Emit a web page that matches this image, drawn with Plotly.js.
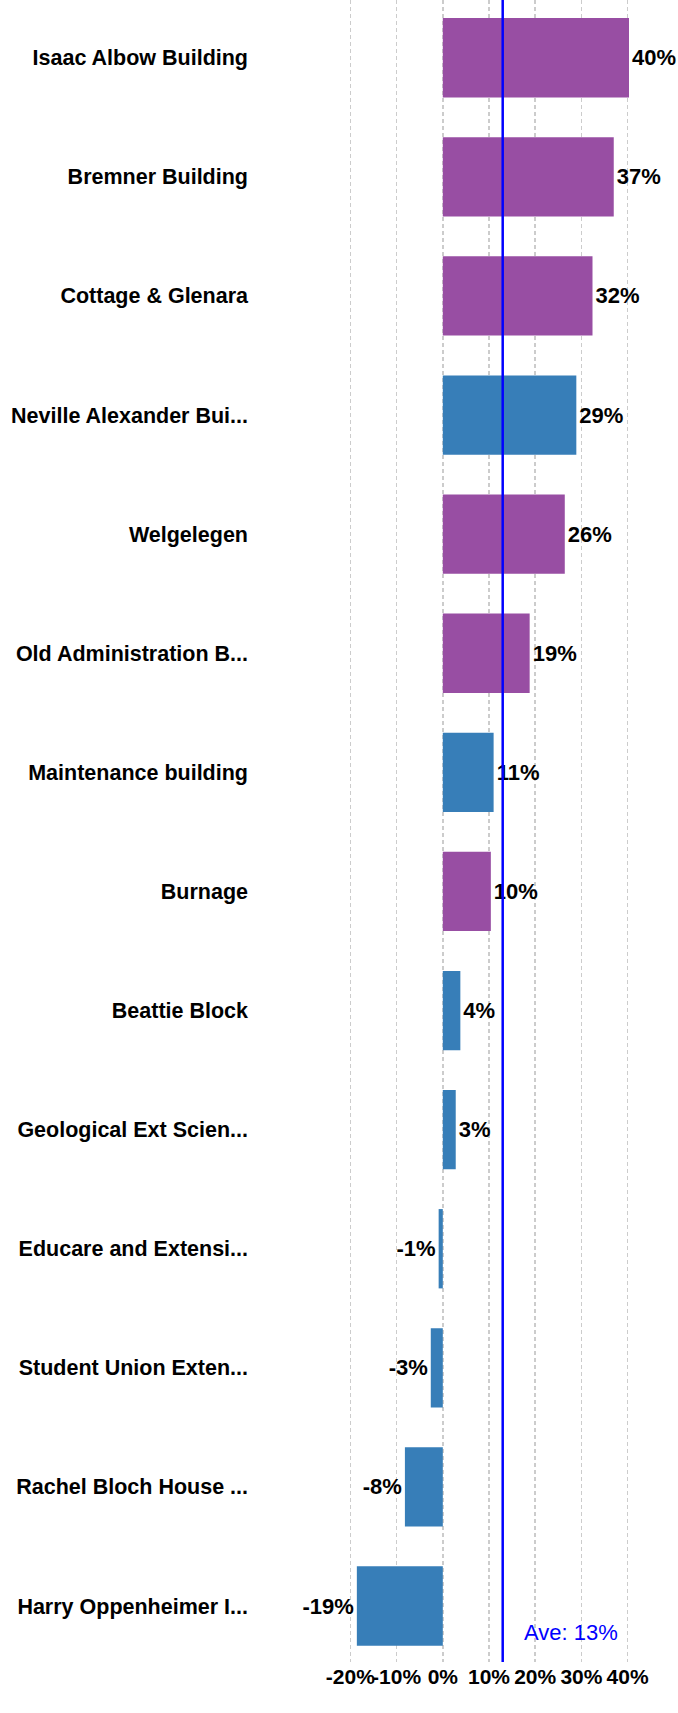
<!DOCTYPE html>
<html>
<head>
<meta charset="utf-8">
<script src="https://cdn.plot.ly/plotly-3.0.1.min.js"></script>
<style>
  html, body { margin: 0; padding: 0; background: #ffffff; }
  #chart { width: 678px; height: 1713px; }
</style>
</head>
<body>
<div id="chart"></div>
<script>
// ---- data ----
const buildings = [
  "Isaac Albow Building",
  "Bremner Building",
  "Cottage & Glenara",
  "Neville Alexander Bui...",
  "Welgelegen",
  "Old Administration B...",
  "Maintenance building",
  "Burnage",
  "Beattie Block",
  "Geological Ext Scien...",
  "Educare and Extensi...",
  "Student Union Exten...",
  "Rachel Bloch House ...",
  "Harry Oppenheimer I..."
];
const changePct = [40.3, 37.0, 32.4, 28.9, 26.4, 18.8, 11.0, 10.4, 3.8, 2.8, -0.9, -2.6, -8.2, -18.6];
const groups = ["A", "A", "A", "B", "A", "A", "B", "A", "B", "B", "B", "B", "B", "B"];
const groupColors = { A: "#984ea3", B: "#377eb8" };
const xTickVals = [-20, -10, 0, 10, 20, 30, 40];
const xTickText = ["-20%", "-10%", "0%", "10%", "20%", "30%", "40%"];

// ---- derived ----
const barText = changePct.map(v => Math.round(v) + "%");
const barColors = groups.map(g => groupColors[g]);
const average = changePct.reduce((a, b) => a + b, 0) / changePct.length;

const FONT = "Liberation Sans, Arial, sans-serif";

const trace = {
  type: "bar",
  orientation: "h",
  y: buildings,
  x: changePct,
  marker: { color: barColors },
  text: barText,
  textposition: "outside",
  cliponaxis: false,
  constraintext: "none",
  textfont: { family: FONT, size: 22, color: "#000000", weight: "bold" },
  hoverinfo: "skip"
};

const layout = {
  width: 678,
  height: 1713,
  margin: { l: 348.6, r: 48.9, t: 0, b: 51 },
  paper_bgcolor: "#ffffff",
  plot_bgcolor: "#ffffff",
  bargap: 0.334,
  showlegend: false,
  font: { family: FONT, color: "#000000" },
  xaxis: {
    range: [-20.3, 40.3],
    tickmode: "array",
    tickvals: xTickVals,
    ticktext: xTickText,
    tickangle: 0,
    showgrid: true,
    gridcolor: "#cccccc",
    gridwidth: 1.5,
    griddash: "4px,3px",
    zeroline: false,
    showline: false,
    ticks: "",
    tickfont: { family: FONT, size: 21, color: "#000000", weight: "bold" },
    fixedrange: true
  },
  yaxis: {
    type: "category",
    range: [13.47, -0.485],
    showgrid: false,
    zeroline: false,
    showline: false,
    ticks: "",
    ticklabelstandoff: 100,
    tickfont: { family: FONT, size: 21.5, color: "#000000", weight: "bold" },
    fixedrange: true
  },
  shapes: [{
    type: "line",
    xref: "x", yref: "paper",
    x0: average, x1: average, y0: 0, y1: 1,
    line: { color: "#0000ff", width: 2.5 }
  }],
  annotations: [{
    xref: "x", yref: "paper",
    x: average, y: 0.018,
    xanchor: "left", yanchor: "middle",
    xshift: 19,
    text: "Ave: " + Math.round(average) + "%",
    showarrow: false,
    font: { family: FONT, size: 22, color: "#0000ff" }
  }]
};

Plotly.newPlot("chart", [trace], layout, { displayModeBar: false, staticPlot: true });
</script>
</body>
</html>
